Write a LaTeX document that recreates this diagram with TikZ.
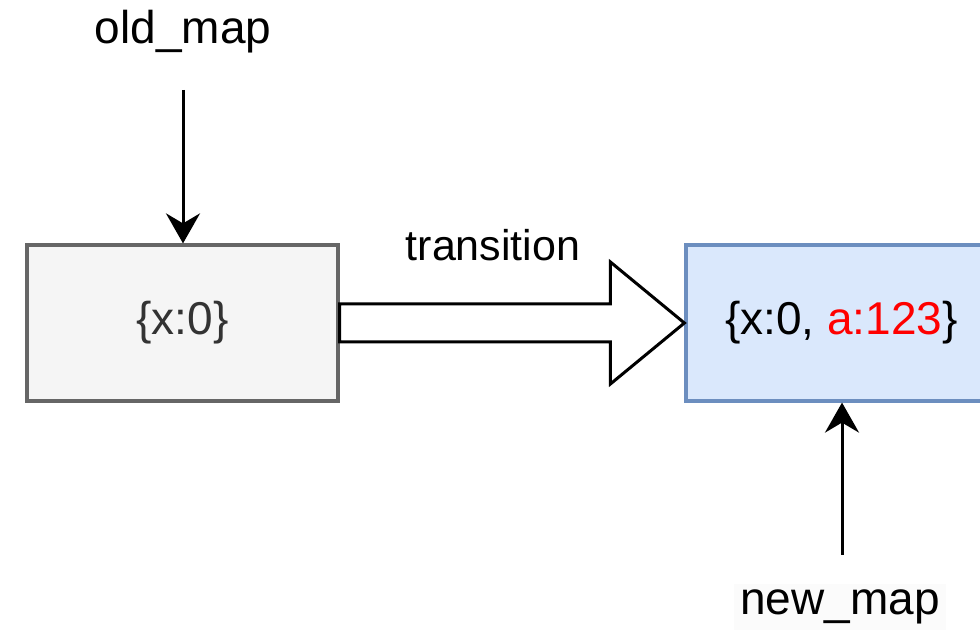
\documentclass[tikz,border=0pt]{standalone}
\usepackage{fontspec}
\setmainfont{Liberation Sans}
\usetikzlibrary{arrows.meta,calc}

\definecolor{oldfill}{HTML}{F5F5F5}
\definecolor{olddraw}{HTML}{666666}
\definecolor{oldtext}{HTML}{333333}
\definecolor{newfill}{HTML}{DAE8FC}
\definecolor{newdraw}{HTML}{6C8EBF}
\definecolor{keyred}{HTML}{FF0000}

\tikzset{
	mapbox/.style = {rectangle, line width=1.6pt, minimum width=155.5pt, minimum height=78pt, inner sep=0pt, font=\fontsize{23}{27}\selectfont},
	maplabel/.style = {inner sep=3pt, font=\fontsize{23}{27}\selectfont},
	pointer/.style = {line width=1.5pt, -{Stealth[length=15pt, width=17pt, inset=5pt]}},
	bigarrow/.style = {line width=1.5pt, draw=black, fill=white, line join=miter}
}

\begin{document}
\begin{tikzpicture}[x=0.5pt, y=-0.5pt]
				\useasboundingbox[fill=white] (0,0) rectangle (980,635);
				\node[mapbox, fill=oldfill, draw=olddraw, text=oldtext] (old) at (182.5,323) {\{x:0\}};
				\node[mapbox, fill=newfill, draw=newdraw] (new) at (841.5,323) {\{x:0, \textcolor{keyred}{a:123}\}};
				\node[maplabel] (oldlbl) at (183,32) {old\_map};
				\node[maplabel, fill=black!1.5] (newlbl) at (840,607) {new\_map};
				\coordinate (oldsrc) at (183,90);
				\coordinate (newsrc) at (842,555);
				\draw[pointer] (oldsrc) -- (old.north -| oldsrc);
				\draw[pointer] (newsrc) -- (new.south -| newsrc);
				% hollow transition arrow
				\draw[bigarrow] ($(old.east)+(0,-19)$) -- ($(new.west)+(-74,-19)$) -- ($(new.west)+(-74,-61)$) -- (new.west)
					-- ($(new.west)+(-74,61)$) -- ($(new.west)+(-74,19)$) -- ($(old.east)+(0,19)$) -- cycle;
				\node[maplabel, font=\fontsize{21.5}{25}\selectfont] (translbl) at (493,245) {transition};
			\end{tikzpicture}
\end{document}
